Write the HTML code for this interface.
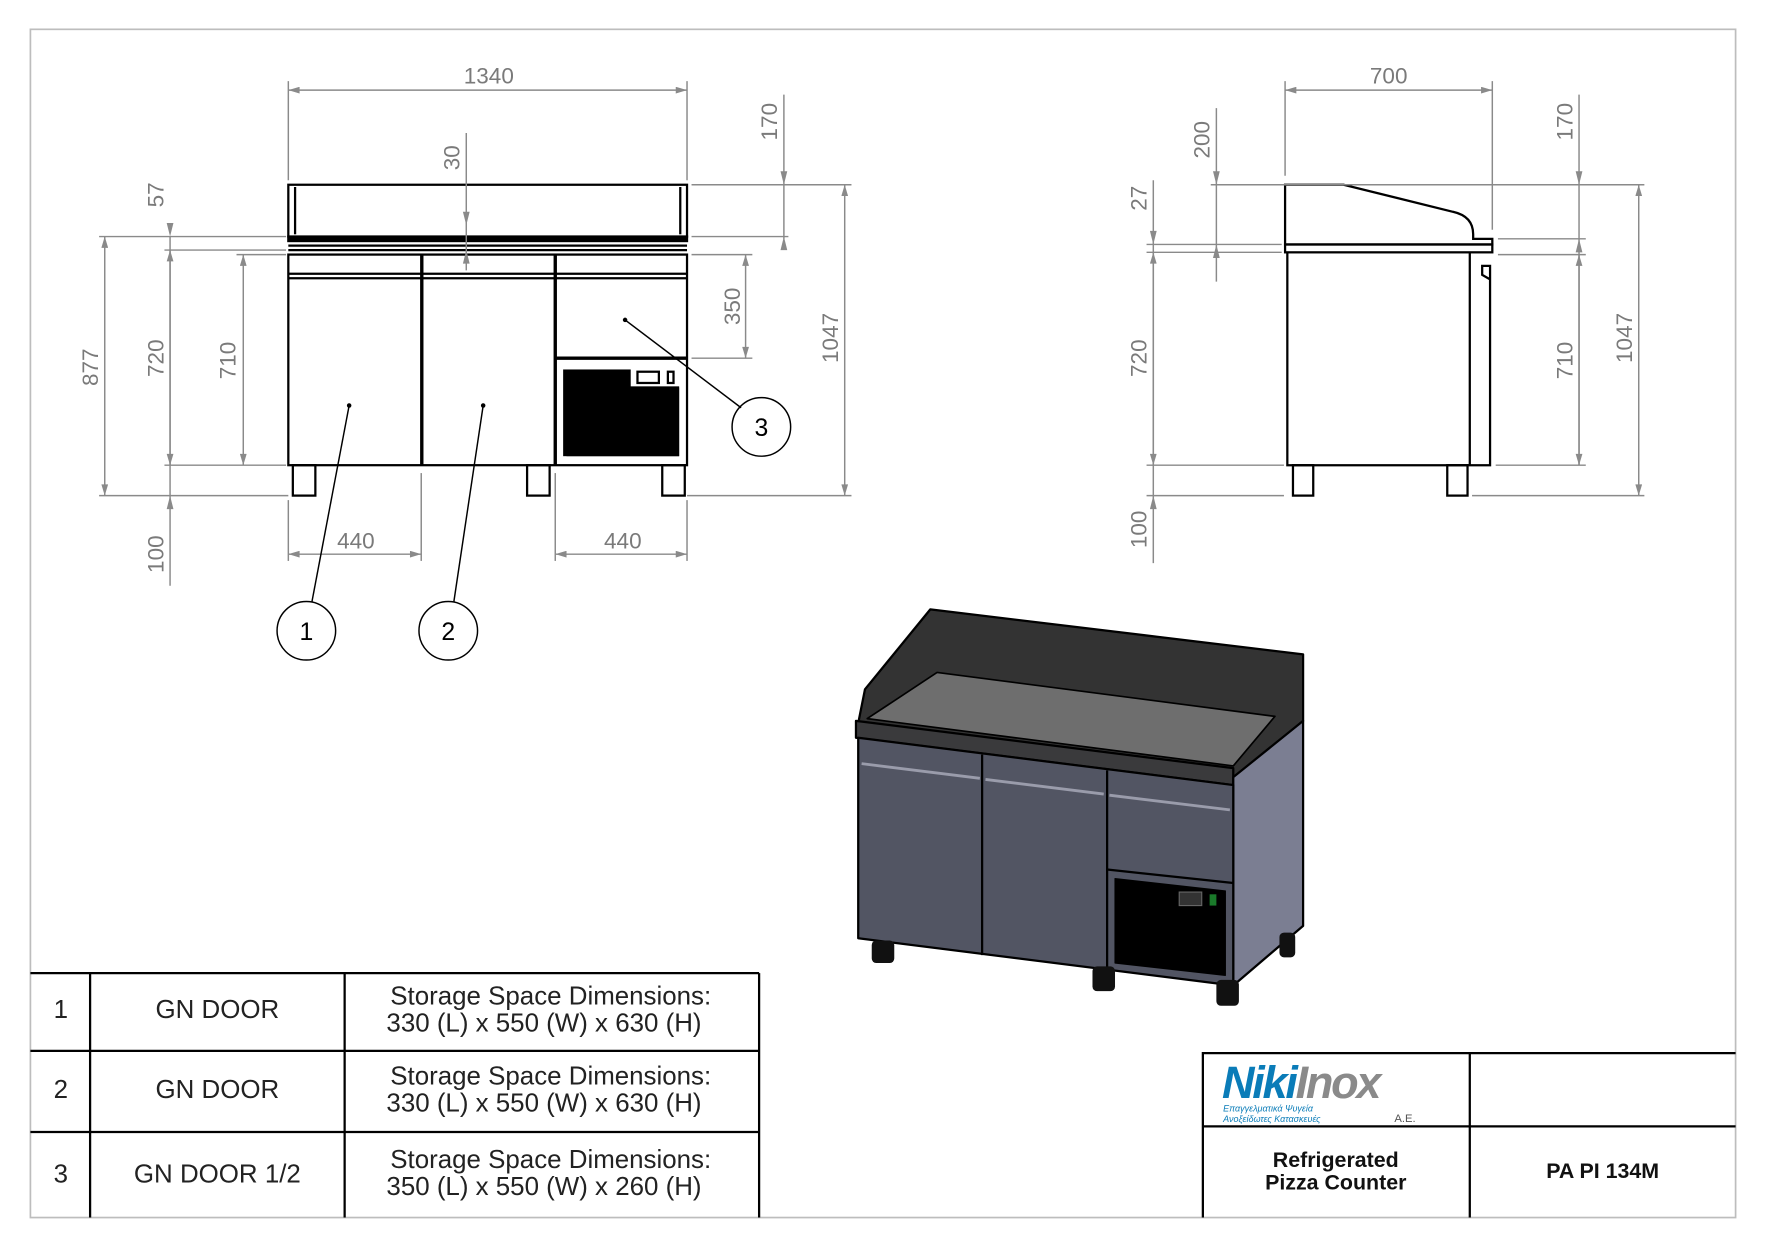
<!DOCTYPE html>
<html><head><meta charset="utf-8"><style>
html,body{margin:0;padding:0;background:#fff}
svg{display:block}
text{font-family:"Liberation Sans",sans-serif}
.d{stroke:#8a8a8a;stroke-width:1.3;fill:none}
.t{fill:#7a7a7a;font-size:20px}
.k{stroke:#000;stroke-width:2;fill:none}
.a{fill:#8a8a8a}
</style></head><body>
<svg width="1766" height="1248" viewBox="0 0 1568 1108" xmlns="http://www.w3.org/2000/svg">
<defs>
<marker id="ar" viewBox="0 0 10 6" refX="10" refY="3" markerWidth="14" markerHeight="6" markerUnits="userSpaceOnUse" orient="auto-start-reverse"><path d="M0,0L10,3L0,6z" fill="#8a8a8a"/></marker>
</defs>
<rect x="27" y="26" width="1514" height="1055" fill="none" stroke="#bdbdbd" stroke-width="1.5"/>

<!-- FRONT VIEW -->
<g class="k">
<rect x="256" y="164" width="354" height="46"/>
<line x1="262" y1="166" x2="262" y2="208"/><line x1="604" y1="166" x2="604" y2="208"/>
<rect x="256" y="210" width="354" height="4" fill="#000"/>
<line x1="256" y1="218" x2="610" y2="218"/><line x1="256" y1="222" x2="610" y2="222"/>
<rect x="256" y="226" width="354" height="187"/>
<line x1="256" y1="243" x2="610" y2="243"/><line x1="256" y1="247" x2="610" y2="247"/>
<line x1="374.5" y1="226" x2="374.5" y2="413" stroke-width="3"/>
<line x1="493" y1="226" x2="493" y2="413" stroke-width="3"/>
<line x1="493" y1="318" x2="610" y2="318" stroke-width="3"/>
<rect x="260" y="413" width="20" height="27"/><rect x="468" y="413" width="20" height="27"/><rect x="588" y="413" width="20" height="27"/>
</g>
<rect x="500" y="328" width="103" height="77" fill="#000"/>
<rect x="560" y="326" width="45" height="18" fill="#fff"/>
<rect x="566" y="330" width="19" height="10" fill="none" stroke="#000" stroke-width="2"/>
<rect x="593" y="330" width="5" height="10" fill="none" stroke="#000" stroke-width="2"/>
<rect x="503" y="343" width="100" height="62" fill="#000"/>

<!-- front dims -->
<g class="d">
<line x1="256" y1="72" x2="256" y2="160"/><line x1="610" y1="72" x2="610" y2="160"/>
<line x1="256" y1="80" x2="610" y2="80" marker-start="url(#ar)" marker-end="url(#ar)"/>
<line x1="414" y1="118" x2="414" y2="240" /> 
<line x1="696" y1="84" x2="696" y2="212"/>
<line x1="614" y1="164" x2="756" y2="164"/><line x1="614" y1="210" x2="700" y2="210"/>
<line x1="750" y1="164" x2="750" y2="440" marker-start="url(#ar)" marker-end="url(#ar)"/>
<line x1="614" y1="226" x2="668" y2="226"/><line x1="614" y1="318" x2="668" y2="318"/>
<line x1="662" y1="226" x2="662" y2="318" marker-start="url(#ar)" marker-end="url(#ar)"/>
<line x1="610" y1="440" x2="756" y2="440"/>
<line x1="88" y1="210" x2="254" y2="210"/><line x1="88" y1="440" x2="256" y2="440"/>
<line x1="93" y1="210" x2="93" y2="440" marker-start="url(#ar)" marker-end="url(#ar)"/>
<line x1="146" y1="222" x2="254" y2="222"/><line x1="146" y1="413" x2="254" y2="413"/>
<line x1="151" y1="210" x2="151" y2="520"/>
<line x1="151" y1="222" x2="151" y2="413" marker-start="url(#ar)" marker-end="url(#ar)"/>
<line x1="210" y1="226" x2="254" y2="226"/>
<line x1="216" y1="226" x2="216" y2="413" marker-start="url(#ar)" marker-end="url(#ar)"/>
<line x1="256" y1="444" x2="256" y2="498"/><line x1="374" y1="420" x2="374" y2="498"/>
<line x1="256" y1="492" x2="374" y2="492" marker-start="url(#ar)" marker-end="url(#ar)"/>
<line x1="493" y1="420" x2="493" y2="498"/><line x1="610" y1="444" x2="610" y2="498"/>
<line x1="493" y1="492" x2="610" y2="492" marker-start="url(#ar)" marker-end="url(#ar)"/>
</g>
<path d="M414,200 l-3,-12 h6z M414,222 l-3,12 h6z M696,164 l-3,-12 h6z M696,210 l-3,12 h6z M151,210 l-3,-12 h6z M151,440 l-3,12 h6z" class="a"/>
<g class="t">
<text x="434" y="74" text-anchor="middle">1340</text>
<text x="316" y="487" text-anchor="middle">440</text>
<text x="553" y="487" text-anchor="middle">440</text>
<text transform="translate(408,140) rotate(-90)" text-anchor="middle">30</text>
<text transform="translate(690,108) rotate(-90)" text-anchor="middle">170</text>
<text transform="translate(744,300) rotate(-90)" text-anchor="middle">1047</text>
<text transform="translate(657,272) rotate(-90)" text-anchor="middle">350</text>
<text transform="translate(87,326) rotate(-90)" text-anchor="middle">877</text>
<text transform="translate(145,318) rotate(-90)" text-anchor="middle">720</text>
<text transform="translate(209,320) rotate(-90)" text-anchor="middle">710</text>
<text transform="translate(145,173) rotate(-90)" text-anchor="middle">57</text>
<text transform="translate(145,492) rotate(-90)" text-anchor="middle">100</text>
</g>
<!-- balloons -->
<g stroke="#000" stroke-width="1.3" fill="none">
<line x1="310" y1="360" x2="277" y2="534"/><line x1="429" y1="360" x2="403" y2="534"/><line x1="555" y1="284" x2="658" y2="362"/>
<circle cx="272" cy="560" r="26"/><circle cx="398" cy="560" r="26"/><circle cx="676" cy="379" r="26"/>
</g>
<circle cx="310" cy="360" r="2"/><circle cx="429" cy="360" r="2"/><circle cx="555" cy="284" r="2"/>
<g font-size="22" text-anchor="middle"><text x="272" y="568">1</text><text x="398" y="568">2</text><text x="676" y="387">3</text></g>

<!-- SIDE VIEW -->
<g class="k">
<path d="M1141,164 H1193 L1290,188 Q1308,192 1308,208 V212 H1325 V217 H1141 Z"/>
<rect x="1141" y="217" width="184" height="7"/>
<path d="M1143,224 V413 H1323 V236 L1316,236 V244 L1323,248"/>
<line x1="1305" y1="224" x2="1305" y2="413"/>
<rect x="1148" y="413" width="18" height="27"/><rect x="1285" y="413" width="18" height="27"/>
</g>
<g class="d">
<line x1="1141" y1="72" x2="1141" y2="156"/><line x1="1325" y1="72" x2="1325" y2="204"/>
<line x1="1141" y1="80" x2="1325" y2="80" marker-start="url(#ar)" marker-end="url(#ar)"/>
<line x1="1080" y1="96" x2="1080" y2="250"/>
<line x1="1075" y1="164" x2="1460" y2="164"/>
<line x1="1018" y1="217" x2="1138" y2="217"/><line x1="1018" y1="224" x2="1138" y2="224"/>
<line x1="1402" y1="84" x2="1402" y2="413"/>
<line x1="1330" y1="212" x2="1408" y2="212"/><line x1="1330" y1="226" x2="1408" y2="226"/>
<line x1="1402" y1="226" x2="1402" y2="413" marker-start="url(#ar)" marker-end="url(#ar)"/>
<line x1="1328" y1="413" x2="1408" y2="413"/>
<line x1="1455" y1="164" x2="1455" y2="440" marker-start="url(#ar)" marker-end="url(#ar)"/>
<line x1="1307" y1="440" x2="1460" y2="440"/>
<line x1="1018" y1="413" x2="1140" y2="413"/><line x1="1018" y1="440" x2="1140" y2="440"/>
<line x1="1024" y1="160" x2="1024" y2="500"/>
<line x1="1024" y1="224" x2="1024" y2="413" marker-start="url(#ar)" marker-end="url(#ar)"/>
</g>
<path d="M1080,164 l-3,-12 h6z M1080,217 l-3,12 h6z M1402,164 l-3,-12 h6z M1402,212 l-3,12 h6z M1024,217 l-3,-12 h6z M1024,440 l-3,12 h6z" class="a"/>
<g class="t">
<text x="1233" y="74" text-anchor="middle">700</text>
<text transform="translate(1074,124) rotate(-90)" text-anchor="middle">200</text>
<text transform="translate(1018,176) rotate(-90)" text-anchor="middle">27</text>
<text transform="translate(1018,318) rotate(-90)" text-anchor="middle">720</text>
<text transform="translate(1018,470) rotate(-90)" text-anchor="middle">100</text>
<text transform="translate(1396,108) rotate(-90)" text-anchor="middle">170</text>
<text transform="translate(1396,320) rotate(-90)" text-anchor="middle">710</text>
<text transform="translate(1449,300) rotate(-90)" text-anchor="middle">1047</text>
</g>

<!-- 3D VIEW -->
<g stroke="#000" stroke-width="2" stroke-linejoin="round">
<polygon points="826,541 1157,581 1157,640 1100,690 762,642 768,612" fill="#333"/>
<polygon points="832,597 1132,636 1095,680 770,638" fill="#6e6e6e" stroke-width="1.5"/>
<polygon points="760,640 1095,682 1095,697 760,655" fill="#3a3a3c"/>
<polygon points="1095,690 1157,640 1157,822 1095,875" fill="#7b7e92"/>
<polygon points="762,655 1095,697 1095,875 762,833" fill="#525563"/>
<line x1="872" y1="670" x2="872" y2="848"/><line x1="983" y1="684" x2="983" y2="862"/>
<line x1="983" y1="772" x2="1095" y2="784"/>
<polygon points="990,780 1088,791 1088,866 990,855" fill="#000" stroke-width="1"/>
</g>
<g stroke="#9a9cab" stroke-width="2.5"><line x1="765" y1="678" x2="870" y2="691"/><line x1="875" y1="692" x2="980" y2="705"/><line x1="985" y1="706" x2="1092" y2="719"/></g>
<rect x="1047" y="792" width="20" height="12" fill="#333" stroke="#666"/><rect x="1074" y="794" width="6" height="10" fill="#1a7a2a"/>
<g fill="#111"><rect x="774" y="835" width="20" height="20" rx="4"/><rect x="970" y="858" width="20" height="22" rx="4"/><rect x="1080" y="870" width="20" height="23" rx="4"/><rect x="1136" y="828" width="14" height="22" rx="4"/></g>

<!-- TABLE -->
<g stroke="#000" stroke-width="2" fill="none">
<line x1="27" y1="864" x2="674" y2="864"/><line x1="27" y1="933" x2="674" y2="933"/><line x1="27" y1="1005" x2="674" y2="1005"/>
<line x1="80" y1="864" x2="80" y2="1081"/><line x1="306" y1="864" x2="306" y2="1081"/><line x1="674" y1="864" x2="674" y2="1081"/>
</g>
<g font-size="23" fill="#222" text-anchor="middle">
<text x="54" y="904">1</text><text x="54" y="975">2</text><text x="54" y="1050">3</text>
<text x="193" y="904">GN DOOR</text><text x="193" y="975">GN DOOR</text><text x="193" y="1050">GN DOOR 1/2</text>
<text x="489" y="892">Storage Space Dimensions:</text><text x="483" y="916">330 (L) x 550 (W) x 630 (H)</text>
<text x="489" y="963">Storage Space Dimensions:</text><text x="483" y="987">330 (L) x 550 (W) x 630 (H)</text>
<text x="489" y="1037">Storage Space Dimensions:</text><text x="483" y="1061">350 (L) x 550 (W) x 260 (H)</text>
</g>

<!-- TITLE BLOCK -->
<g stroke="#000" stroke-width="2" fill="none">
<polyline points="1068,1081 1068,935 1541,935"/><line x1="1068" y1="1000" x2="1541" y2="1000"/><line x1="1305" y1="935" x2="1305" y2="1081"/>
</g>
<text x="1085" y="975" font-size="40" font-weight="bold" font-style="italic" fill="#0a7cb8" letter-spacing="-2">Niki<tspan fill="#8a8a8a">Inox</tspan></text>
<text x="1086" y="987" font-size="8" font-style="italic" fill="#0a7cb8">Επαγγελματικά Ψυγεία</text>
<text x="1086" y="996" font-size="8" font-style="italic" fill="#0a7cb8">Ανοξείδωτες Κατασκευές</text>
<text x="1238" y="996" font-size="10" fill="#555">A.E.</text>
<g font-size="19" font-weight="bold" text-anchor="middle" fill="#111">
<text x="1186" y="1036">Refrigerated</text><text x="1186" y="1056">Pizza Counter</text>
<text x="1423" y="1046">PA PI 134M</text>
</g>
</svg>
</body></html>
